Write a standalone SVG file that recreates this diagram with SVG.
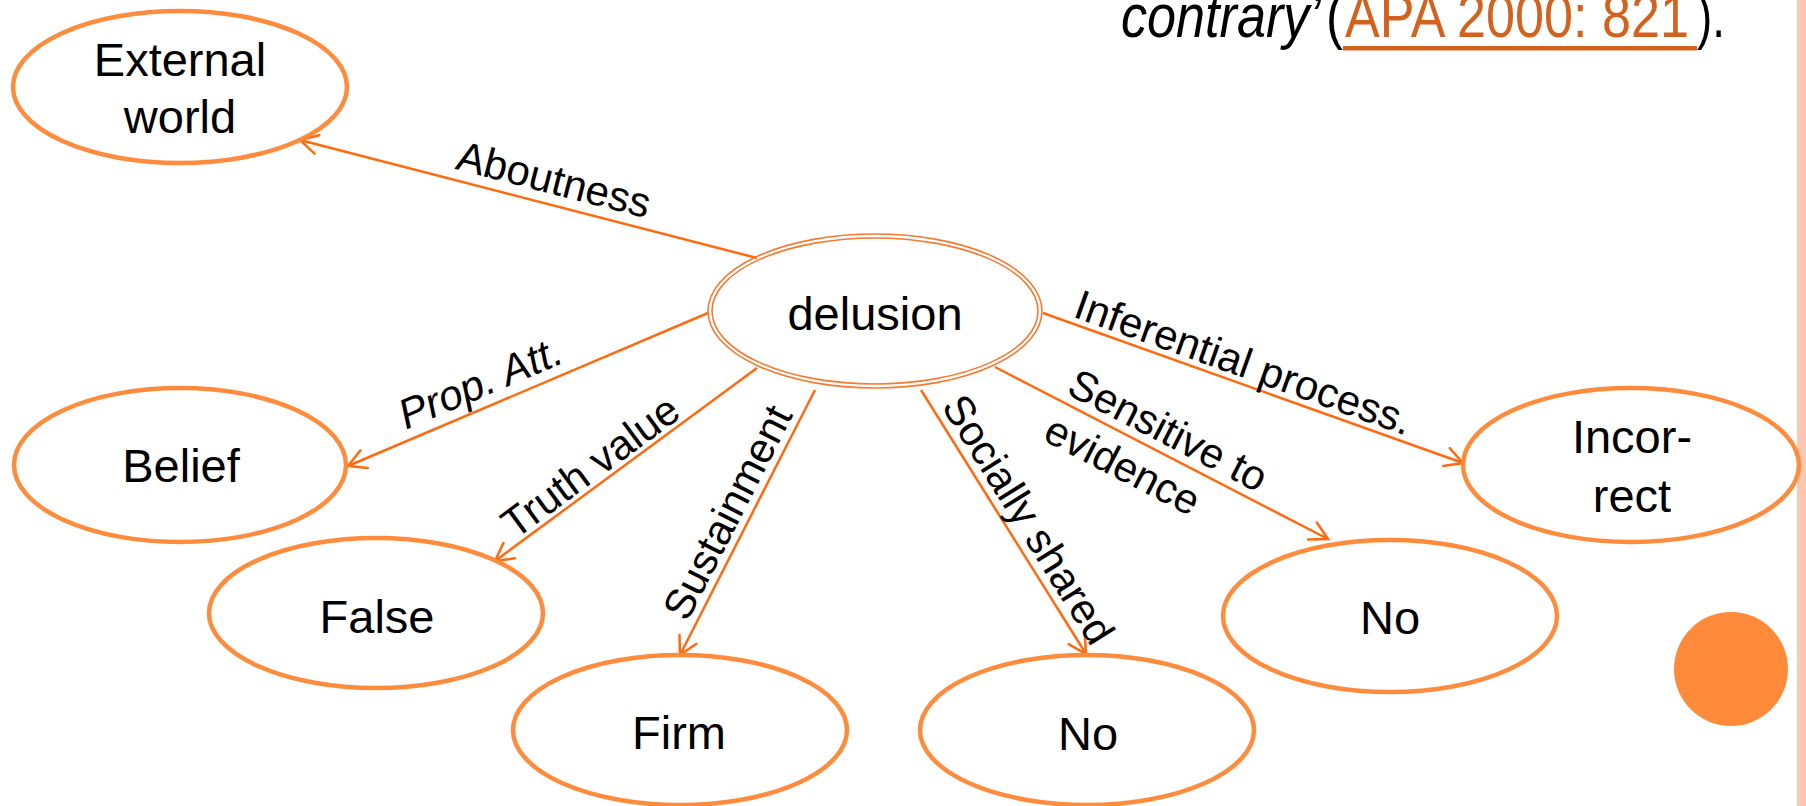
<svg xmlns="http://www.w3.org/2000/svg" width="1806" height="806" viewBox="0 0 1806 806">
  <style>
    .node { fill: #FFFFFF; stroke: #FF8B3D; stroke-width: 4.5; }
    .core { fill: none; stroke: #F57A32; stroke-width: 1.6; }
    .nlabel { font-family: "Liberation Sans", Arial, sans-serif; font-size: 47px; fill: #000000; text-anchor: middle; }
    .elabel { font-family: "Liberation Sans", Arial, sans-serif; font-size: 42px; fill: #000000; text-anchor: middle; }
    .elabel.start { text-anchor: start; }
    .edge { fill: none; stroke: #FF6A10; stroke-width: 2.5; marker-end: url(#arr); }
    .cite { font-family: "Liberation Sans", Arial, sans-serif; font-size: 62px; fill: #000000; }
    .ref { fill: #D3621F; }
  </style>
  <defs>
    <marker id="arr" markerUnits="userSpaceOnUse" markerWidth="40" markerHeight="40" viewBox="-30 -20 40 40" refX="0" refY="0" orient="auto" overflow="visible">
      <path d="M-17.5,-9.5 L0,0 L-17.5,9.5" fill="none" stroke="#FF6A10" stroke-width="2.5" stroke-linecap="round"/>
    </marker>
  </defs>

  <rect width="1806" height="806" fill="#FFFFFF"/>
  <!-- slide edge band -->
  <rect x="1797" y="0" width="9" height="806" fill="#FFC7B2"/>
  <!-- slide bullet disc -->
  <circle cx="1731" cy="669" r="57" fill="#FF8A3A"/>

  <!-- citation fragment at the top -->
  <g id="citation">
    <text class="cite" x="1121" y="37" font-style="italic" textLength="200" lengthAdjust="spacingAndGlyphs">contrary’</text>
    <text class="cite" x="1326" y="37" textLength="17" lengthAdjust="spacingAndGlyphs">(</text>
    <text class="cite ref" x="1345" y="37" textLength="344" lengthAdjust="spacingAndGlyphs">APA 2000: 821</text>
    <rect x="1343" y="46" width="354" height="4.5" fill="#D3621F"/>
    <text class="cite" x="1697" y="37" textLength="28" lengthAdjust="spacingAndGlyphs">).</text>
  </g>

  <!-- connectors -->
  <g id="connectors">
    <path class="edge" d="M757,258 L300,140"/>
    <path class="edge" d="M708,313 L348,466"/>
    <path class="edge" d="M757,368 L495,561"/>
    <path class="edge" d="M815,390 L680,655"/>
    <path class="edge" d="M921,390 L1086,654"/>
    <path class="edge" d="M995,367 L1328,539"/>
    <path class="edge" d="M1043,313 L1463,463"/>

    <text class="elabel" transform="translate(554,179) rotate(14.5)" y="15">Aboutness</text>
    <text class="elabel" transform="translate(480,382) rotate(-23)" y="15" font-style="italic">Prop. Att.</text>
    <text class="elabel" transform="translate(590,466) rotate(-36.4)" y="15">Truth value</text>
    <text class="elabel" transform="translate(727,512) rotate(-63)" y="15">Sustainment</text>
    <text class="elabel" transform="translate(1029,519) rotate(58)" y="15">Socially shared</text>
    <g transform="translate(1072,380) rotate(27.3)">
      <text class="elabel start" x="0" y="15">Sensitive to</text>
      <text class="elabel start" x="0" y="67">evidence</text>
    </g>
    <text class="elabel" transform="translate(1244,362) rotate(19.65)" y="15">Inferential process.</text>
  </g>

  <!-- nodes -->
  <g id="node-delusion">
    <ellipse class="core" cx="875" cy="311" rx="167" ry="77"/>
    <ellipse class="core" cx="875" cy="311" rx="163" ry="73"/>
    <text class="nlabel" x="875" y="330">delusion</text>
  </g>
  <g id="node-external-world">
    <ellipse class="node" cx="180" cy="87" rx="167" ry="76"/>
    <text class="nlabel" x="180" y="76">External</text>
    <text class="nlabel" x="180" y="133">world</text>
  </g>
  <g id="node-belief">
    <ellipse class="node" cx="180" cy="465" rx="166" ry="77"/>
    <text class="nlabel" x="181" y="482">Belief</text>
  </g>
  <g id="node-false">
    <ellipse class="node" cx="376" cy="613" rx="167" ry="75"/>
    <text class="nlabel" x="377" y="633">False</text>
  </g>
  <g id="node-firm">
    <ellipse class="node" cx="680" cy="730" rx="167" ry="75"/>
    <text class="nlabel" x="679" y="749">Firm</text>
  </g>
  <g id="node-no-shared">
    <ellipse class="node" cx="1087" cy="730" rx="167" ry="75"/>
    <text class="nlabel" x="1088" y="750">No</text>
  </g>
  <g id="node-no-evidence">
    <ellipse class="node" cx="1390" cy="616" rx="167" ry="76"/>
    <text class="nlabel" x="1390" y="634">No</text>
  </g>
  <g id="node-incorrect">
    <ellipse class="node" cx="1631" cy="465" rx="168" ry="77"/>
    <text class="nlabel" x="1632" y="453">Incor-</text>
    <text class="nlabel" x="1632" y="512">rect</text>
  </g>
</svg>
